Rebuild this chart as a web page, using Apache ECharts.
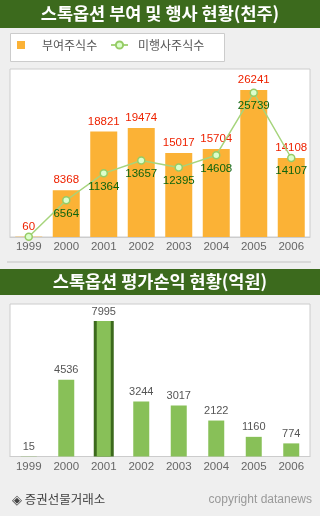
<!DOCTYPE html>
<html><head><meta charset="utf-8">
<script src="https://cdn.jsdelivr.net/npm/echarts@6/dist/echarts.min.js"></script>
<style>html,body{margin:0;padding:0;background:#efefef;}#c{width:320px;height:516px;}</style>
</head><body><div id="c"></div>
<script>
// ---- data ----
const years = ['1999','2000','2001','2002','2003','2004','2005','2006'];
const granted = [60, 8368, 18821, 19474, 15017, 15704, 26241, 14108];      // 부여주식수 (천주)
const unexercised = [60, 6564, 11364, 13657, 12395, 14608, 25739, 14107];  // 미행사주식수 (천주)
const valuation = [15, 4536, 7995, 3244, 3017, 2122, 1160, 774];          // 평가손익 (억원)
const title1 = '스톡옵션 부여 및 행사 현황(천주)';
const title2 = '스톡옵션 평가손익 현황(억원)';
const source = '◈ 증권선물거래소';
const copyright = 'copyright datanews';
const highlightYear = '2001';

const KR = '"Noto Sans CJK KR", sans-serif';
const NUM = '"Liberation Sans", Arial, sans-serif';
const GREEN_DARK = '#3c6a1d';
const GREEN_BAR = '#88c058';

const chart = echarts.init(document.getElementById('c'), null, {renderer: 'canvas'});

const lineData = unexercised.map((v, i) => i === 0 ? {value: v, label: {show: false}} : v);
const valNormal = valuation.map((v, i) => years[i] === highlightYear ? '-' : v);
const valHighlight = valuation.map((v, i) => years[i] === highlightYear ? v : '-');

const axisCommon = {
  type: 'category',
  data: years,
  axisLine: {lineStyle: {color: '#cccccc', width: 1}},
  axisTick: {inside: true, length: 5, lineStyle: {color: '#999999'}},
  axisLabel: {color: '#666666', fontSize: 11.5, fontFamily: NUM, margin: 4, interval: 0}
};

const barLabel = {show: true, position: 'top', distance: 4, color: '#555555', fontSize: 11, fontFamily: NUM};

chart.setOption({
  backgroundColor: '#efefef',
  animation: false,
  grid: [
    {left: 10, top: 69, width: 300, height: 168, show: true, backgroundColor: '#ffffff', borderColor: '#cccccc', borderWidth: 1},
    {left: 10, top: 304, width: 300, height: 152.5, show: true, backgroundColor: '#ffffff', borderColor: '#cccccc', borderWidth: 1}
  ],
  xAxis: [
    Object.assign({gridIndex: 0}, axisCommon),
    Object.assign({gridIndex: 1}, axisCommon),
    {gridIndex: 1, type: 'category', data: years, show: false},
    {gridIndex: 1, type: 'category', data: years, show: false}
  ],
  yAxis: [
    {gridIndex: 0, type: 'value', min: 0, max: 30000, show: false},
    {gridIndex: 1, type: 'value', min: 0, max: 9000, show: false}
  ],
  legend: [
    {left: 17, top: 39, padding: 0, itemWidth: 8, itemHeight: 8, data: [{name: '부여주식수', icon: 'rect'}],
     textStyle: {color: '#555555', fontSize: 12, fontFamily: KR, padding: [0, 0, 0, 12]}},
    {left: 110, top: 39, padding: 0, itemWidth: 17, itemHeight: 9, data: ['미행사주식수'],
     textStyle: {color: '#555555', fontSize: 12, fontFamily: KR, padding: [0, 0, 0, 5]}}
  ],
  graphic: [
    {type: 'rect', left: 0, top: 0, shape: {width: 320, height: 28}, style: {fill: GREEN_DARK}, silent: true},
    {type: 'text', left: 'center', top: 5, style: {text: title1, fill: '#ffffff', font: 'bold 17.5px ' + KR}},
    {type: 'rect', shape: {x: 10.5, y: 33.5, width: 214, height: 28}, style: {fill: '#ffffff', stroke: '#cccccc', lineWidth: 1}, z: -1, silent: true},
    {type: 'line', shape: {x1: 7, y1: 262, x2: 311, y2: 262}, style: {stroke: '#d2d2d2', lineWidth: 1.5}, silent: true},
    {type: 'rect', left: 0, top: 269, shape: {width: 320, height: 26}, style: {fill: GREEN_DARK}, silent: true},
    {type: 'text', left: 'center', top: 273, style: {text: title2, fill: '#ffffff', font: 'bold 17.5px ' + KR}},
    {type: 'text', left: 12, top: 493, style: {text: source, fill: '#444444', font: '12.5px ' + KR}},
    {type: 'text', right: 8, top: 494, style: {text: copyright, fill: '#999999', font: '12px "Liberation Sans", Arial, sans-serif'}}
  ],
  series: [
    {
      name: '부여주식수', type: 'bar', xAxisIndex: 0, yAxisIndex: 0,
      data: granted, barWidth: 27,
      itemStyle: {color: '#fbb236'},
      label: Object.assign({}, barLabel, {color: '#ee2200', fontSize: 11.5})
    },
    {
      name: '미행사주식수', type: 'line', xAxisIndex: 0, yAxisIndex: 0,
      data: lineData, z: 5,
      symbol: 'circle', symbolSize: 7,
      lineStyle: {color: '#a6d47c', width: 1.5},
      itemStyle: {color: '#dcffcc', borderColor: '#96cc66', borderWidth: 1.5},
      label: {show: true, position: 'bottom', distance: 3, color: '#0e640e', fontSize: 11.5, fontFamily: NUM}
    },
    {
      name: '평가손익', type: 'bar', xAxisIndex: 1, yAxisIndex: 1,
      data: valNormal, barWidth: 16,
      itemStyle: {color: GREEN_BAR},
      label: barLabel
    },
    {
      name: '평가손익 강조 테두리', type: 'bar', xAxisIndex: 2, yAxisIndex: 1,
      data: valHighlight, barWidth: 20, z: 2,
      itemStyle: {color: GREEN_DARK}
    },
    {
      name: '평가손익 강조', type: 'bar', xAxisIndex: 3, yAxisIndex: 1,
      data: valHighlight, barWidth: 14, z: 3,
      itemStyle: {color: GREEN_BAR},
      label: barLabel
    }
  ]
});
</script></body></html>
